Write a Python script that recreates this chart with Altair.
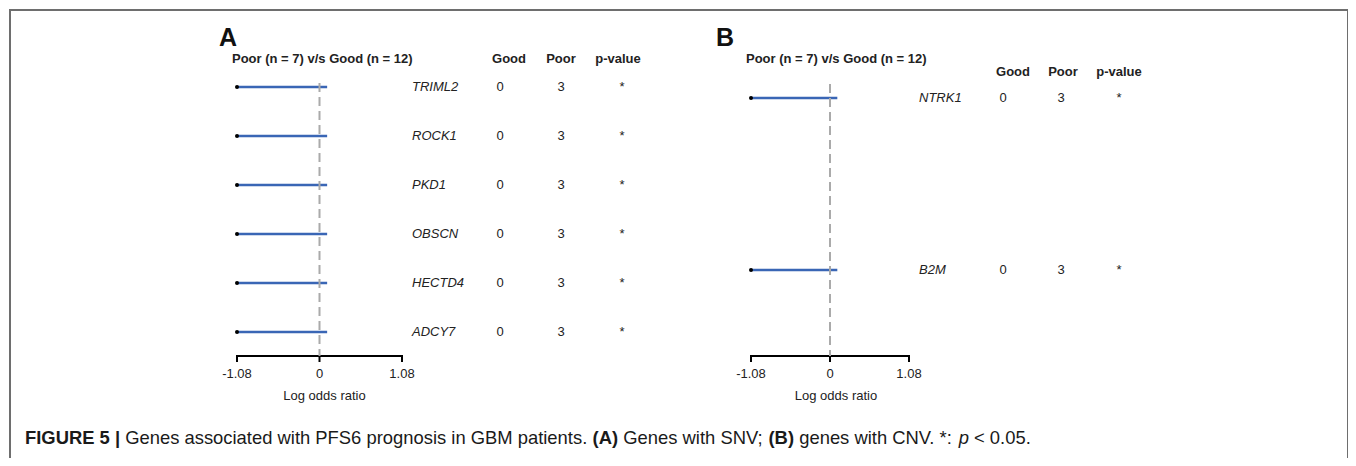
import altair as alt
import pandas as pd

# ---------------- data ----------------
genes_a = ["TRIML2", "ROCK1", "PKD1", "OBSCN", "HECTD4", "ADCY7"]
lor_a = [-1.08, -1.08, -1.08, -1.08, -1.08, -1.08]
upper_a = [0.1, 0.1, 0.1, 0.1, 0.1, 0.1]
good_a = [0, 0, 0, 0, 0, 0]
poor_a = [3, 3, 3, 3, 3, 3]
pval_a = ["*", "*", "*", "*", "*", "*"]

genes_b = ["NTRK1", "B2M"]
lor_b = [-1.08, -1.08]
upper_b = [0.1, 0.1]
good_b = [0, 0]
poor_b = [3, 3]
pval_b = ["*", "*"]

ticks = [-1.08, 0, 1.08]
tick_labels = ["-1.08", "0", "1.08"]
headers = ["Good", "Poor", "p-value"]
panel_title = "Poor (n = 7) v/s Good (n = 12)"
axis_title = "Log odds ratio"
caption_parts = [
    ("FIGURE 5 |", "bold", "normal"),
    ("Genes associated with PFS6 prognosis in GBM patients.", "normal", "normal"),
    ("(A)", "bold", "normal"),
    ("Genes with SNV;", "normal", "normal"),
    ("(B)", "bold", "normal"),
    ("genes with CNV. *:", "normal", "normal"),
    ("p", "normal", "italic"),
    ("< 0.05.", "normal", "normal"),
]

FONT = "Liberation Sans"
BLUE = "#3a66b5"
TXT = "#222222"
AXIS_Y = 347


def one(v, name="t"):
    return alt.Chart(pd.DataFrame({name: [v]}))


def panel(genes, lor, upper, good, poor, pval, xrange, yrange, dash_top,
          col_x, head_x, head_y, title_x, letter, letter_x, gene_x, axis_title_dx):
    df = pd.DataFrame({"gene": genes, "lor": lor, "upper": upper,
                       "good": good, "poor": poor, "pval": pval})
    xs = alt.Scale(domain=[ticks[0], ticks[-1]], range=xrange, nice=False, zero=False)
    ys = alt.Scale(type="point", domain=genes, range=yrange, padding=0)
    base = alt.Chart(df)
    layers = []
    layers.append(base.mark_rule(color=BLUE, strokeWidth=2.5).encode(
        x=alt.X("lor:Q", scale=xs, axis=None), x2="upper:Q",
        y=alt.Y("gene:N", scale=ys, axis=None)))
    layers.append(base.mark_circle(color="black", size=16, opacity=1).encode(
        x="lor:Q", y="gene:N"))
    # axis
    layers.append(alt.Chart(pd.DataFrame({"a": [ticks[0]], "b": [ticks[-1]]})).mark_rule(
        color="black", strokeWidth=2).encode(x="a:Q", x2="b:Q", y=alt.value(AXIS_Y)))
    tdf = pd.DataFrame({"t": ticks, "lab": tick_labels})
    layers.append(alt.Chart(tdf).mark_rule(color="black", strokeWidth=2).encode(
        x="t:Q", y=alt.value(AXIS_Y - 1), y2=alt.value(AXIS_Y + 6)))
    layers.append(alt.Chart(tdf).mark_text(font=FONT, fontSize=13, color=TXT, baseline="middle").encode(
        x="t:Q", y=alt.value(AXIS_Y + 18), text="lab:N"))
    layers.append(alt.Chart(pd.DataFrame({"x": [0], "t": [axis_title]})).mark_text(
        font=FONT, fontSize=13, color=TXT, baseline="middle", dx=axis_title_dx).encode(
        x="x:Q", y=alt.value(AXIS_Y + 40), text="t:N"))
    # dashed zero line
    layers.append(alt.Chart(pd.DataFrame({"x": [0]})).mark_rule(
        color="#aaaaaa", strokeWidth=2, strokeDash=[9, 5]).encode(
        x="x:Q", y=alt.value(dash_top), y2=alt.value(AXIS_Y)))
    # gene names
    layers.append(base.mark_text(font=FONT, fontSize=13, fontStyle="italic", color=TXT,
                                 align="left", baseline="middle").encode(
        x=alt.value(gene_x), y="gene:N", text="gene:N"))
    for field, cx in zip(["good", "poor", "pval"], col_x):
        layers.append(base.mark_text(font=FONT, fontSize=13, color=TXT, baseline="middle").encode(
            x=alt.value(cx), y="gene:N", text=f"{field}:N"))
    for h, hx in zip(headers, head_x):
        layers.append(one(h).mark_text(font=FONT, fontSize=13, fontWeight="bold", color=TXT,
                                       baseline="middle").encode(
            x=alt.value(hx), y=alt.value(head_y), text="t:N"))
    layers.append(one(panel_title).mark_text(font=FONT, fontSize=13, fontWeight="bold", color=TXT,
                                             align="left", baseline="middle").encode(
        x=alt.value(title_x), y=alt.value(50), text="t:N"))
    layers.append(one(letter).mark_text(font=FONT, fontSize=25, fontWeight="bold", color="#111111",
                                        align="left", baseline="alphabetic").encode(
        x=alt.value(letter_x), y=alt.value(37), text="t:N"))
    return alt.layer(*layers)


pa = panel(genes_a, lor_a, upper_a, good_a, poor_a, pval_a,
           xrange=[228, 393], yrange=[78, 323], dash_top=74,
           col_x=[491, 552, 613], head_x=[500, 552, 609], head_y=50,
           title_x=223, letter="A", letter_x=210, gene_x=403, axis_title_dx=5)
pb = panel(genes_b, lor_b, upper_b, good_b, poor_b, pval_b,
           xrange=[742, 900], yrange=[89, 261], dash_top=75,
           col_x=[994, 1052, 1110], head_x=[1004, 1054, 1110], head_y=63,
           title_x=737, letter="B", letter_x=707, gene_x=910, axis_title_dx=6)

# frame (decoration)
frame = [
    one(0).mark_rule(color="#6e6e6e", strokeWidth=2).encode(
        x=alt.value(0), x2=alt.value(1339), y=alt.value(1)),
    one(0).mark_rule(color="#6e6e6e", strokeWidth=2).encode(
        x=alt.value(1), y=alt.value(0), y2=alt.value(450)),
    one(0).mark_rule(color="#6e6e6e", strokeWidth=2).encode(
        x=alt.value(1339), y=alt.value(0), y2=alt.value(450)),
]

# caption
CAP_SIZE = 18.4
cap_x = [16, 116.2, 583.6, 614.3, 759.5, 790.2, 949.7, 965.0]
caption = []
for (txt, wt, st), cx in zip(caption_parts, cap_x):
    caption.append(one(txt).mark_text(font=FONT, fontSize=CAP_SIZE, fontWeight=wt, fontStyle=st,
                                      color="#1a1a1a", align="left", baseline="alphabetic").encode(
        x=alt.value(cx), y=alt.value(435), text="t:N"))

chart = alt.layer(pa, pb, *frame, *caption).resolve_scale(
    x="independent", y="independent"
).properties(
    width=1340, height=450, padding=0,
    autosize=alt.AutoSizeParams(type="fit", contains="padding"),
    background="white",
).configure_view(stroke=None)

chart.save("out.html", embed_options={"renderer": "svg", "actions": False})
